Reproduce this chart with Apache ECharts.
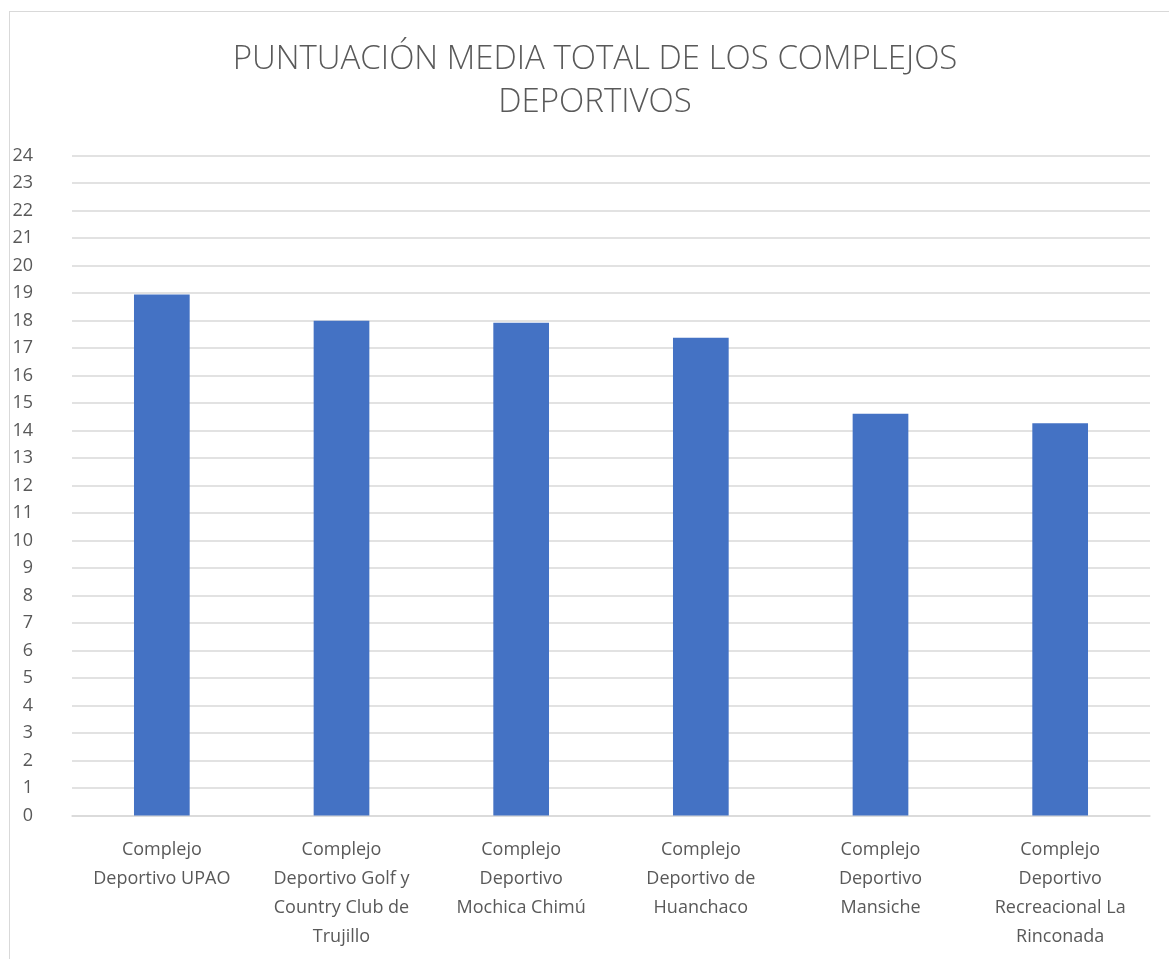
<!DOCTYPE html>
<html>
<head>
<meta charset="utf-8">
<script src="https://cdn.jsdelivr.net/npm/echarts@6/dist/echarts.min.js"></script>
<style>
html,body{margin:0;padding:0;background:#fff;}
#frame{position:absolute;left:9px;top:11px;width:1180px;height:960px;border:1px solid #d9d9d9;box-sizing:border-box;}
#chart{position:absolute;left:0;top:0;width:1169px;height:959px;}
</style>
</head>
<body>
<div id="frame"></div>
<div id="chart"></div>
<script>
const titleText = 'PUNTUACIÓN MEDIA TOTAL DE LOS COMPLEJOS\nDEPORTIVOS';
const categories = [
  'Complejo\nDeportivo UPAO',
  'Complejo\nDeportivo Golf y\nCountry Club de\nTrujillo',
  'Complejo\nDeportivo\nMochica Chimú',
  'Complejo\nDeportivo de\nHuanchaco',
  'Complejo\nDeportivo\nMansiche',
  'Complejo\nDeportivo\nRecreacional La\nRinconada'
];
const values = [18.95, 18.0, 17.92, 17.38, 14.61, 14.27];
const yMin = 0, yMax = 24, yInterval = 1;

const chart = echarts.init(document.getElementById('chart'), null, {renderer: 'canvas'});
chart.setOption({
  animation: false,
  backgroundColor: 'transparent',
  title: {
    text: titleText,
    left: 590,
    top: 33,
    textAlign: 'center',
    textStyle: {
      fontFamily: 'Open Sans',
      fontWeight: 300,
      fontSize: 33,
      color: '#595959',
      lineHeight: 43
    }
  },
  grid: {left: 72, right: 19, top: 155.7, bottom: 143.5},
  xAxis: {
    type: 'category',
    data: categories,
    axisLine: {show: true, lineStyle: {color: '#d9d9d9', width: 1.5}},
    axisTick: {show: false},
    axisLabel: {
      interval: 0,
      margin: 20,
      color: '#595959',
      fontFamily: 'Open Sans',
      fontSize: 18,
      lineHeight: 29
    }
  },
  yAxis: {
    type: 'value',
    min: yMin, max: yMax, interval: yInterval,
    axisLine: {show: false},
    axisTick: {show: false},
    splitLine: {lineStyle: {color: '#d9d9d9', width: 1.5}},
    axisLabel: {
      margin: 39,
      color: '#595959',
      fontFamily: 'Open Sans',
      fontSize: 18
    }
  },
  series: [{
    type: 'bar',
    data: values,
    barWidth: '31%',
    itemStyle: {color: '#4472C4'}
  }]
});
</script>
</body>
</html>
